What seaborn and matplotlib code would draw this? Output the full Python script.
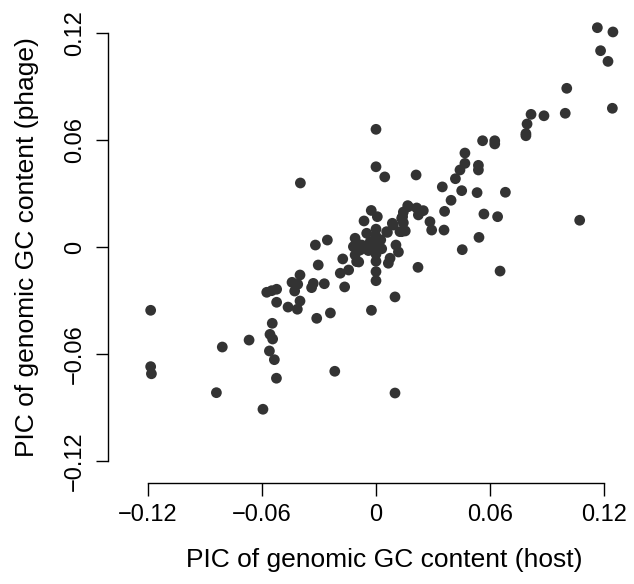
import numpy as np
import pandas as pd
import matplotlib
matplotlib.use("Agg")
import matplotlib.pyplot as plt
import seaborn as sns

host = [0.1165, 0.1247, 0.1182, 0.1221, 0.1004, 0.1244, 0.0816, 0.0884, 0.0996, 0.0795,
        0.0789, 0.0789, 0.0, 0.0561, 0.0625, 0.0625, 0.0468, 0.0468, 0.0539, 0.0539,
        0.0442, 0.0418, 0.0, 0.0046, 0.0211, 0.0349, 0.0451, 0.0532, 0.0681, 0.0395,
        0.0361, 0.0568, 0.0640, 0.1072, 0.0167, 0.0214, 0.0249, 0.0144, 0.0140, 0.0223,
        0.0007, -0.0025, 0.0086, 0.0144, 0.0284, 0.0293, 0.0358, 0.0060, 0.0126, 0.0154,
        0.0542, 0.0105, 0.0454, 0.0118, 0.0074, 0.0065, 0.0221, 0.0653, 0.0, 0.0,
        0.0100, -0.0024, 0.0100, -0.0063, 0.0, 0.0, 0.0, 0.0, 0.0, 0.0,
        -0.0049, -0.0110, -0.0119, -0.0075, -0.0110, -0.0102, 0.0056, 0.0091, 0.0135, 0.0170,
        0.0135, -0.0030, 0.0025, -0.0040, 0.0030, -0.0084, -0.0102, -0.0319, -0.0256, -0.0175,
        -0.0304, -0.0400, -0.0442, -0.0412, -0.0330, -0.0272, -0.0339, -0.0428, -0.0523, -0.0549,
        -0.0575, -0.0523, -0.0400, -0.0463, -0.0414, -0.0165, -0.0188, -0.0144, -0.0091, -0.1186,
        -0.0312, -0.0240, -0.0546, -0.0558, -0.0544, -0.0668, -0.0809, -0.0561, -0.0535, -0.1186,
        -0.1182, -0.0524, -0.0217, -0.0840, -0.0595, -0.0398]

phage = [0.1230, 0.1206, 0.1101, 0.1041, 0.0890, 0.0778, 0.0744, 0.0736, 0.0750, 0.0690,
         0.0624, 0.0636, 0.0660, 0.0596, 0.0596, 0.0578, 0.0527, 0.0469, 0.0458, 0.0432,
         0.0432, 0.0383, 0.0450, 0.0393, 0.0404, 0.0337, 0.0316, 0.0305, 0.0307, 0.0262,
         0.0200, 0.0185, 0.0170, 0.0150, 0.0232, 0.0219, 0.0204, 0.0196, 0.0170, 0.0180,
         0.0170, 0.0205, 0.0133, 0.0136, 0.0142, 0.0095, 0.0095, 0.0082, 0.0086, 0.0090,
         0.0054, 0.0011, -0.0015, -0.0028, -0.0063, -0.0091, -0.0114, -0.0135, -0.0138, -0.0189,
         -0.0280, -0.0355, -0.0819, 0.0146, 0.0100, 0.0060, 0.0025, -0.0005, -0.0040, -0.0080,
         0.0077, 0.0049, 0.0002, 0.0011, -0.0045, -0.0082, 0.0086, 0.0123, 0.0161, 0.0226,
         0.0086, 0.0030, 0.0040, -0.0020, -0.0010, -0.0017, 0.0021, 0.0011, 0.0039, -0.0067,
         -0.0101, -0.0157, -0.0198, -0.0209, -0.0204, -0.0206, -0.0228, -0.0247, -0.0237, -0.0245,
         -0.0254, -0.0310, -0.0303, -0.0337, -0.0349, -0.0224, -0.0147, -0.0129, -0.0084, -0.0355,
         -0.0400, -0.0370, -0.0428, -0.0490, -0.0516, -0.0522, -0.0561, -0.0583, -0.0632, -0.0671,
         -0.0711, -0.0736, -0.0697, -0.0817, -0.0910, 0.0359]

ticks = [-0.12, -0.06, 0, 0.06, 0.12]
tick_labels = ["\u22120.12", "\u22120.06", "0", "0.06", "0.12"]

df = pd.DataFrame({"host": host, "phage": phage})

sns.set_style("white")
plt.rcParams["font.family"] = ["Liberation Sans", "DejaVu Sans"]

W, H = 634, 584
fig = plt.figure(figsize=(W / 100, H / 100), dpi=100)
left, right, bottom, top = 108, 620, 483, 20
ax = fig.add_axes([left / W, (H - bottom) / H, (right - left) / W, (bottom - top) / H])

sns.scatterplot(data=df, x="host", y="phage", ax=ax, color="#333333",
                s=60, edgecolor="none", linewidth=0)

ax.set_xlim((left - 376) / 1900, (right - 376) / 1900)
ax.set_ylim((247 - bottom) / 1783, (247 - top) / 1783)

for side in ["top", "right"]:
    ax.spines[side].set_visible(False)
for side in ["left", "bottom"]:
    ax.spines[side].set_visible(True)
    ax.spines[side].set_color("black")
    ax.spines[side].set_linewidth(1.0)
ax.spines["bottom"].set_bounds(-0.12, 0.12)
ax.spines["left"].set_bounds(-0.12, 0.12)

ax.set_xticks(ticks)
ax.set_xticklabels(tick_labels)
ax.set_yticks(ticks)
ax.set_yticklabels(tick_labels, rotation=90, va="center")
ax.tick_params(axis="both", direction="out", length=9, width=1.0, color="black",
               labelsize=17, labelcolor="black", bottom=True, left=True)
ax.tick_params(axis="x", pad=6)
ax.tick_params(axis="y", pad=7)

ax.set_xlabel("PIC of genomic GC content (host)", fontsize=19, labelpad=16, color="black")
ax.set_ylabel("PIC of genomic GC content (phage)", fontsize=19, labelpad=18, color="black")
ax.xaxis.label.set_x((384.5 - left) / (right - left))
ax.yaxis.label.set_y((bottom - 247) / (bottom - top))
ax.grid(False)

fig.savefig("out.png", dpi=100)
